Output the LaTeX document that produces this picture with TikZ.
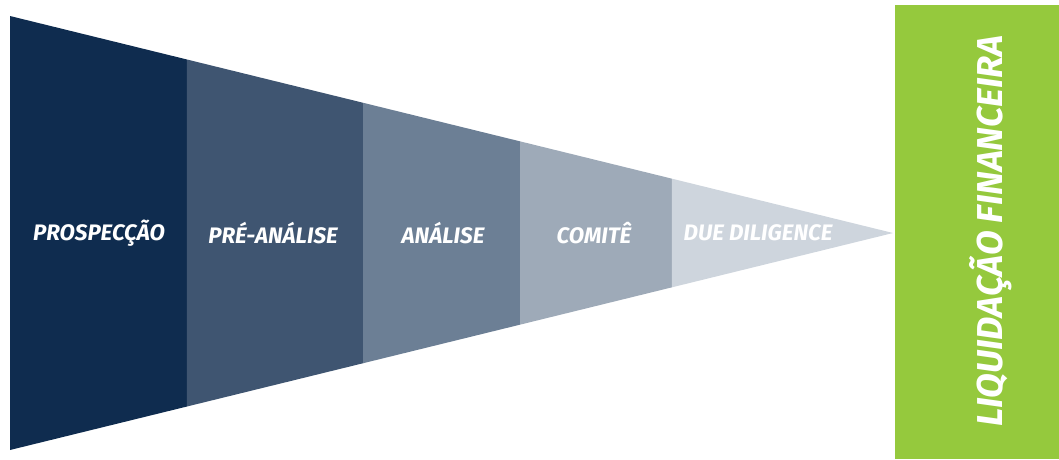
\documentclass[tikz,border=0pt]{standalone}
\usepackage{fontspec}
\usepackage{tikz}
\usepackage{xcolor}
\usetikzlibrary{calc}
\newfontfamily\funnelfont{Fira Sans}

\definecolor{stageA}{HTML}{0F2C4F}
\definecolor{stageB}{HTML}{3F5571}
\definecolor{stageC}{HTML}{6C7F95}
\definecolor{stageD}{HTML}{9EAAB8}
\definecolor{stageE}{HTML}{CED5DD}
\definecolor{liqgreen}{HTML}{95C93D}

\tikzset{
    stagelabel/.style={text=white,font=\funnelfont\bfseries\itshape\fontsize{22.4}{24}\selectfont},
    biglabel/.style={text=white,rotate=90,font=\funnelfont\bfseries\itshape\fontsize{36}{40}\selectfont}
}

\begin{document}
\begin{tikzpicture}[x=1pt,y=-1pt]
        \useasboundingbox (0,0) rectangle (1059,459);
        % funnel corners
        \coordinate (tl) at (10,16);
        \coordinate (bl) at (10,450);
        \coordinate (tip) at (893,233);
        % slices of the funnel
        \foreach \a/\b/\c in {0/0.2004/stageA,0.2004/0.3998/stageB,0.3998/0.5776/stageC,0.5776/0.7497/stageD,0.7497/1/stageE}{
            \fill[\c] ($(tl)!\a!(tip)$) -- ($(tl)!\b!(tip)$) -- ($(bl)!\b!(tip)$) -- ($(bl)!\a!(tip)$) -- cycle;
        }
        \node[stagelabel] (prosp) at (99,233) {PROSPECÇÃO};
        \node[stagelabel] (prean) at (273,233) {PRÉ-ANÁLISE};
        \node[stagelabel] (anal) at (443,233) {ANÁLISE};
        \node[stagelabel] (comite) at (594,233) {COMITÊ};
        \node[stagelabel] (due) at (758,233) {DUE DILIGENCE};
        % last step
        \fill[liqgreen] (895,5) rectangle (1059,459);
        \node[biglabel] (liq) at (991,231) {LIQUIDAÇÃO FINANCEIRA};
    \end{tikzpicture}
\end{document}
